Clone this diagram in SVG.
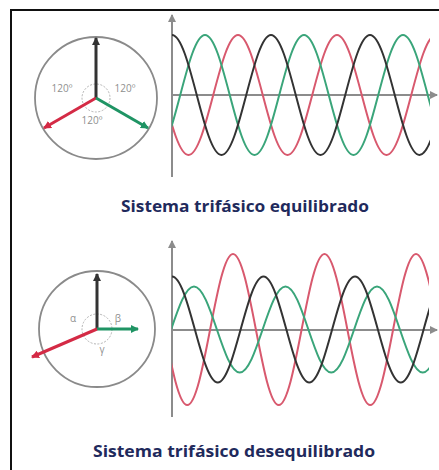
<svg xmlns="http://www.w3.org/2000/svg" xmlns:xlink="http://www.w3.org/1999/xlink" width="439" height="470" viewBox="0 0 439 470">
<style>
.frame{stroke:#111;stroke-width:2;fill:none}
.circ{fill:none;stroke:#8a8a8a;stroke-width:1.8}
.dash{fill:none;stroke:#aaaaaa;stroke-width:0.9;stroke-dasharray:2 1.5}
.axis{stroke:#8c8c8c;stroke-width:2;fill:none}
.wave{fill:none;stroke-width:2}
.pb{stroke:#333;stroke-width:3;fill:none}
.pr{stroke:#d42a45;stroke-width:3;fill:none}
.pg{stroke:#1f9464;stroke-width:3;fill:none}
.ang{font-family:"Open Sans","Liberation Sans",sans-serif;font-size:10px;fill:#8f8f8f;text-anchor:middle}
.title{font-family:"Open Sans","Liberation Sans",sans-serif;font-weight:bold;fill:#1f2a5c;text-anchor:middle}
</style>
<defs>
<marker id="mb" markerWidth="8" markerHeight="8" refX="7" refY="4" orient="auto" markerUnits="userSpaceOnUse"><path d="M0,0 L8,4 L0,8 Z" fill="#333"/></marker>
<marker id="mr" markerWidth="8" markerHeight="8" refX="7" refY="4" orient="auto" markerUnits="userSpaceOnUse"><path d="M0,0 L8,4 L0,8 Z" fill="#d42a45"/></marker>
<marker id="mg" markerWidth="8" markerHeight="8" refX="7" refY="4" orient="auto" markerUnits="userSpaceOnUse"><path d="M0,0 L8,4 L0,8 Z" fill="#1f9464"/></marker>
<marker id="ma" markerWidth="8" markerHeight="8" refX="7" refY="4" orient="auto" markerUnits="userSpaceOnUse"><path d="M0,0 L8,4 L0,8 Z" fill="#8c8c8c"/></marker>
<clipPath id="ct"><rect x="172" y="20" width="258" height="160"/></clipPath>
<clipPath id="cb"><rect x="172" y="240" width="257" height="180"/></clipPath>
<path id="w1" d="M73,35 C91,35 104.5,155 122.5,155 S154,35 172,35 S203.5,155 221.5,155 S253,35 271,35 S302.5,155 320.5,155 S352,35 370,35 S401.5,155 419.5,155 S451,35 469,35"/>
</defs>

<g id="frame"><path class="frame" d="M11,470 L11,10 L439,10"/></g>

<g id="phasor-top">
<circle class="circ" cx="96" cy="98" r="61"/>
<circle class="dash" cx="96" cy="98" r="14"/>
<line class="pb" x1="96" y1="98" x2="96" y2="38" marker-end="url(#mb)"/>
<line class="pr" x1="96" y1="98" x2="44" y2="128" marker-end="url(#mr)"/>
<line class="pg" x1="96" y1="98" x2="148" y2="128" marker-end="url(#mg)"/>
<text class="ang" x="62" y="92">120º</text>
<text class="ang" x="125" y="92">120º</text>
<text class="ang" x="92" y="124">120º</text>
</g>

<g id="plot-top">
<line class="axis" x1="172" y1="177" x2="172" y2="15" marker-end="url(#ma)"/>
<line class="axis" x1="172" y1="95" x2="437" y2="95" marker-end="url(#ma)"/>
<g clip-path="url(#ct)">
<use xlink:href="#w1" class="wave" stroke="#d8596e" transform="translate(66,0)"/>
<use xlink:href="#w1" class="wave" stroke="#3aa57a" transform="translate(33,0)"/>
<use xlink:href="#w1" class="wave" stroke="#333333"/>
</g>
</g>

<g id="title-top"><text class="title" x="245" y="212" font-size="15.5" textLength="248" lengthAdjust="spacingAndGlyphs">Sistema trifásico equilibrado</text></g>

<g id="phasor-bottom">
<circle class="circ" cx="97" cy="329" r="58"/>
<circle class="dash" cx="97" cy="329" r="15"/>
<line class="pb" x1="97" y1="329" x2="97" y2="274" marker-end="url(#mb)"/>
<line class="pg" x1="97" y1="329" x2="138" y2="329" marker-end="url(#mg)"/>
<line class="pr" x1="97" y1="329" x2="32" y2="357" marker-end="url(#mr)"/>
<text class="ang" x="73" y="322">α</text>
<text class="ang" x="118" y="322">β</text>
<text class="ang" x="102" y="353">γ</text>
</g>

<g id="plot-bottom">
<line class="axis" x1="172" y1="417" x2="172" y2="241" marker-end="url(#ma)"/>
<line class="axis" x1="172" y1="330" x2="437" y2="330" marker-end="url(#ma)"/>
<g clip-path="url(#cb)">
<path class="wave" stroke="#d8596e" d="M141.5,254 C158.1,254 170.65,405 187.25,405 S216.4,254 233,254 S262.15,405 278.75,405 S307.9,254 324.5,254 S353.65,405 370.25,405 S399.4,254 416,254 S445.15,405 461.75,405"/>
<path class="wave" stroke="#3aa57a" d="M102.5,286.5 C119.1,286.5 131.65,372.5 148.25,372.5 S177.4,286.5 194,286.5 S223.15,372.5 239.75,372.5 S268.9,286.5 285.5,286.5 S314.65,372.5 331.25,372.5 S360.4,286.5 377,286.5 S406.15,372.5 422.75,372.5 S451.9,286.5 468.5,286.5"/>
<path class="wave" stroke="#333333" d="M80.5,276.5 C97.1,276.5 109.65,382.5 126.25,382.5 S155.4,276.5 172,276.5 S201.15,382.5 217.75,382.5 S246.9,276.5 263.5,276.5 S292.65,382.5 309.25,382.5 S338.4,276.5 355,276.5 S384.15,382.5 400.75,382.5 S429.9,276.5 446.5,276.5"/>
</g>
</g>

<g id="title-bottom"><text class="title" x="234" y="457" font-size="16" textLength="282" lengthAdjust="spacingAndGlyphs">Sistema trifásico desequilibrado</text></g>
</svg>
